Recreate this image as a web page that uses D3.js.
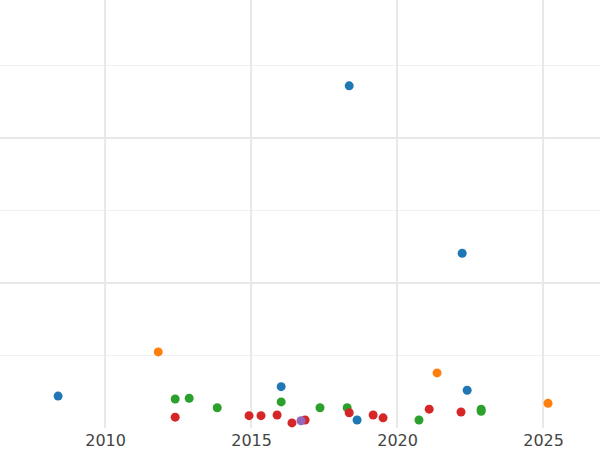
<!DOCTYPE html>
<html><head><meta charset="utf-8">
<script src="https://cdn.jsdelivr.net/npm/d3@7"></script>
<style>body{margin:0;background:#fff}</style>
</head><body>
<svg id="chart"></svg>
<script>
const seriesColours = ['#1f77b4', '#ff7f0e', '#2ca02c', '#d62728', '#9467bd']
const blueX = [2008.39, 2018.36, 2022.23, 2016.03, 2022.40, 2018.63]
const blueY = [0.44, 4.72, 2.41, 0.57, 0.52, 0.11]
const orangeX = [2011.82, 2021.37, 2025.17]
const orangeY = [1.05, 0.76, 0.34]
const greenX = [2012.40, 2012.88, 2013.84, 2016.03, 2017.36, 2018.29, 2020.75, 2022.88, 2022.88]
const greenY = [0.40, 0.41, 0.28, 0.36, 0.28, 0.28, 0.11, 0.26, 0.23]
const redX = [2012.40, 2014.93, 2015.34, 2015.89, 2016.40, 2016.85, 2018.36, 2019.18, 2019.52, 2021.10, 2022.19]
const redY = [0.15, 0.17, 0.17, 0.18, 0.07, 0.11, 0.21, 0.18, 0.14, 0.26, 0.22]
const purpleX = [2016.71]
const purpleY = [0.10]
const xTicks = [2010, 2015, 2020, 2025]
const yMajor = [2, 4]
const yMinor = [1, 3, 5]

const width = 600
const height = 450
const plotBottom = 428

const svg = d3.select('#chart').attr('width', width).attr('height', height)

const x = d3.scaleLinear().domain([2006.40, 2026.95]).range([0, width])
const y = d3.scaleLinear().domain([0, 5.89]).range([plotBottom, 1])

const grid = svg.append('g')
grid.selectAll('.hminor').data(yMinor).join('line')
    .attr('x1', 0).attr('x2', width).attr('y1', d => y(d)).attr('y2', d => y(d))
    .attr('stroke', '#f0f0f0').attr('stroke-width', 1)
grid.selectAll('.vmajor').data(xTicks).join('line')
    .attr('x1', d => x(d)).attr('x2', d => x(d)).attr('y1', 0).attr('y2', plotBottom)
    .attr('stroke', '#e8e8e8').attr('stroke-width', 2)
grid.selectAll('.hmajor').data(yMajor).join('line')
    .attr('x1', 0).attr('x2', width).attr('y1', d => y(d)).attr('y2', d => y(d))
    .attr('stroke', '#e8e8e8').attr('stroke-width', 2)

svg.append('g')
    .attr('transform', `translate(0, ${plotBottom})`)
    .call(d3.axisBottom(x).tickValues(xTicks).tickFormat(d3.format('d')).tickSize(0).tickPadding(7))
    .call(g => g.select('.domain').remove())
    .call(g => g.selectAll('text').attr('font-family', 'DejaVu Sans').attr('font-size', 16).attr('fill', '#444'))

const series = [[blueX, blueY], [orangeX, orangeY], [greenX, greenY], [redX, redY], [purpleX, purpleY]]
series.forEach(([xs, ys], i) => {
    svg.append('g').selectAll('circle')
        .data(xs.map((d, j) => ({ x: d, y: ys[j] })))
        .join('circle')
        .attr('cx', d => x(d.x))
        .attr('cy', d => y(d.y))
        .attr('r', 4.5)
        .attr('fill', seriesColours[i])
})
</script>
</body></html>
